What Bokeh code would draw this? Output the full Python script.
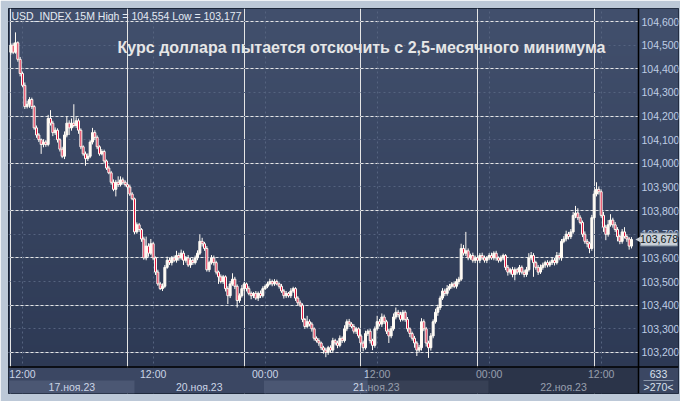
import numpy as np
from bokeh.plotting import figure
from bokeh.models import (Range1d, FixedTicker, CustomJSTickFormatter, ColumnDataSource,
                          Grid, LinearAxis)
from bokeh.core.properties import value
from bokeh.embed import file_html
from bokeh.resources import INLINE

# ---------------- data ----------------
symbol = "USD_INDEX"
timeframe = "15M"
open0 = 104.470
closes = [
    104.500, 104.470, 104.510, 104.440, 104.380, 104.330, 104.240, 104.250, 104.270, 104.240,
    104.150, 104.120, 104.100, 104.080, 104.090, 104.080, 104.190, 104.170, 104.130, 104.140,
    104.100, 104.060, 104.030, 104.120, 104.170, 104.150, 104.170, 104.160, 104.180, 104.140,
    104.070, 104.040, 104.020, 104.030, 104.090, 104.130, 104.110, 104.070, 104.040, 104.050,
    104.010, 103.980, 103.960, 103.920, 103.890, 103.920, 103.910, 103.930, 103.920, 103.910,
    103.900, 103.870, 103.850, 103.710, 103.740, 103.720, 103.680, 103.600, 103.650, 103.620,
    103.660, 103.600, 103.540, 103.490, 103.470, 103.480, 103.560, 103.590, 103.580, 103.600,
    103.590, 103.610, 103.600, 103.620, 103.590, 103.600, 103.570, 103.590, 103.580, 103.600,
    103.620, 103.670, 103.660, 103.640, 103.550, 103.580, 103.600, 103.580, 103.540, 103.520,
    103.500, 103.520, 103.470, 103.440, 103.490, 103.510, 103.480, 103.420, 103.440, 103.470,
    103.490, 103.470, 103.450, 103.440, 103.450, 103.430, 103.450, 103.440, 103.470, 103.480,
    103.490, 103.500, 103.490, 103.500, 103.490, 103.480, 103.460, 103.440, 103.450, 103.440,
    103.460, 103.470, 103.430, 103.410, 103.400, 103.340, 103.310, 103.330, 103.320, 103.300,
    103.260, 103.250, 103.240, 103.220, 103.210, 103.200, 103.220, 103.210, 103.250, 103.240,
    103.230, 103.260, 103.250, 103.300, 103.330, 103.320, 103.310, 103.290, 103.300, 103.270,
    103.240, 103.220, 103.280, 103.290, 103.250, 103.230, 103.300, 103.330, 103.320, 103.350,
    103.330, 103.290, 103.270, 103.300, 103.350, 103.370, 103.360, 103.340, 103.370, 103.340,
    103.300, 103.280, 103.260, 103.240, 103.210, 103.220, 103.330, 103.300, 103.240, 103.220,
    103.270, 103.330, 103.370, 103.390, 103.430, 103.460, 103.450, 103.470, 103.480, 103.490,
    103.480, 103.500, 103.510, 103.640, 103.620, 103.630, 103.600, 103.610, 103.590, 103.600,
    103.590, 103.610, 103.600, 103.590, 103.600, 103.610, 103.600, 103.620, 103.600, 103.590,
    103.600, 103.610, 103.560, 103.540, 103.550, 103.530, 103.550, 103.540, 103.560, 103.540,
    103.530, 103.550, 103.600, 103.610, 103.580, 103.560, 103.540, 103.560, 103.570, 103.580,
    103.570, 103.580, 103.590, 103.580, 103.610, 103.600, 103.670, 103.680, 103.700, 103.690,
    103.710, 103.780, 103.790, 103.770, 103.750, 103.700, 103.670, 103.660, 103.640, 103.770,
    103.870, 103.890, 103.880, 103.780, 103.730, 103.700, 103.740, 103.760, 103.740, 103.720,
    103.690, 103.670, 103.710, 103.690, 103.680, 103.650, 103.678,
]
# wick lengths above / below the body, in 0.001 points
wick_up = [
    8, 10, 44, 6, 10, 8, 12, 15, 10, 8,
    6, 10, 8, 5, 12, 8, 15, 35, 10, 12,
    8, 6, 10, 15, 30, 12, 20, 80, 15, 10,
    8, 6, 10, 12, 8, 20, 10, 8, 6, 10,
    8, 6, 10, 8, 12, 10, 25, 15, 10, 8,
    6, 10, 8, 5, 10, 8, 6, 10, 40, 12,
    20, 8, 6, 10, 8, 12, 10, 15, 12, 8,
    10, 20, 12, 15, 10, 8, 12, 10, 8, 10,
    12, 30, 15, 8, 10, 8, 12, 10, 8, 6,
    10, 8, 6, 10, 12, 25, 10, 8, 10, 15,
    8, 6, 10, 8, 6, 10, 8, 12, 10, 8,
    10, 12, 8, 10, 8, 6, 10, 8, 10, 6,
    12, 8, 6, 8, 10, 8, 6, 25, 10, 8,
    6, 8, 10, 6, 8, 10, 8, 10, 12, 8,
    10, 12, 8, 15, 10, 12, 8, 10, 8, 6,
    8, 10, 12, 8, 10, 8, 10, 25, 12, 15,
    10, 8, 10, 12, 15, 20, 10, 12, 10, 8,
    10, 6, 8, 10, 8, 12, 15, 10, 8, 10,
    12, 10, 15, 12, 10, 12, 10, 15, 10, 8,
    10, 12, 10, 20, 15, 80, 10, 8, 12, 10,
    8, 10, 12, 10, 8, 10, 12, 8, 10, 6,
    10, 8, 6, 10, 8, 12, 10, 8, 10, 8,
    10, 12, 20, 15, 10, 8, 10, 12, 10, 8,
    10, 8, 12, 10, 15, 12, 10, 12, 15, 10,
    12, 15, 30, 20, 10, 8, 12, 10, 8, 12,
    15, 30, 12, 10, 15, 10, 20, 25, 10, 12,
    10, 8, 12, 20, 10, 8, 10,
]
wick_dn = [
    10, 8, 6, 10, 12, 8, 10, 8, 15, 10,
    8, 12, 10, 40, 12, 10, 8, 10, 15, 10,
    12, 10, 8, 12, 10, 30, 12, 8, 10, 15,
    10, 8, 30, 10, 8, 10, 12, 10, 8, 6,
    10, 8, 6, 10, 8, 30, 10, 8, 10, 8,
    10, 8, 6, 10, 8, 10, 12, 8, 10, 15,
    8, 10, 12, 8, 6, 10, 8, 6, 10, 12,
    8, 10, 12, 8, 20, 10, 8, 12, 10, 8,
    10, 8, 12, 10, 8, 10, 8, 12, 10, 30,
    8, 10, 12, 35, 10, 8, 12, 30, 10, 8,
    10, 12, 8, 15, 10, 8, 12, 10, 8, 6,
    8, 6, 10, 8, 6, 10, 8, 12, 10, 8,
    10, 8, 12, 10, 8, 12, 10, 8, 10, 12,
    10, 8, 12, 10, 15, 20, 10, 12, 8, 10,
    12, 8, 10, 8, 10, 12, 8, 10, 12, 10,
    10, 15, 8, 10, 12, 20, 10, 8, 10, 12,
    10, 12, 30, 10, 8, 10, 12, 10, 8, 10,
    12, 15, 10, 20, 25, 10, 12, 10, 15, 43,
    12, 10, 8, 15, 10, 8, 12, 10, 8, 10,
    8, 10, 12, 8, 10, 12, 10, 8, 10, 12,
    10, 12, 8, 10, 12, 10, 8, 10, 12, 10,
    8, 10, 12, 15, 10, 12, 25, 10, 12, 10,
    12, 10, 8, 10, 60, 10, 12, 8, 10, 12,
    10, 8, 10, 12, 8, 10, 12, 8, 10, 12,
    10, 8, 12, 10, 8, 12, 10, 15, 20, 10,
    8, 10, 12, 10, 20, 25, 10, 8, 12, 10,
    20, 12, 10, 8, 12, 15, 10,
]
price_ticks = [103.2, 103.3, 103.4, 103.5, 103.6, 103.7, 103.8, 103.9,
               104.0, 104.1, 104.2, 104.3, 104.4, 104.5, 104.6]
time_ticks = [5, 61, 109, 157, 205, 253]
time_labels = ["12:00", "12:00", "00:00", "12:00", "00:00", "12:00"]
day_edges = [-0.7, 53, 108.5, 204.7, 269]
day_labels = ["17.ноя.23", "20.ноя.23", "21.ноя.23", "22.ноя.23"]
day_shaded = [True, False, True, False]
bars_total = 633
bars_visible = 270
title_text = "Курс доллара пытается отскочить с 2,5-месячного минимума"

assert len(closes) == len(wick_up) == len(wick_dn)

# ---------------- derived OHLC ----------------
n = len(closes)
idx = list(range(n))
opens = [open0] + closes[:-1]
body_top = [max(o, c) for o, c in zip(opens, closes)]
body_bot = [min(o, c) for o, c in zip(opens, closes)]
highs = [t + u / 1000 for t, u in zip(body_top, wick_up)]
lows = [b - d / 1000 for b, d in zip(body_bot, wick_dn)]
RED = "#E0173F"
WHITE = "#FFFBF4"
fills = [WHITE if c >= o else RED for o, c in zip(opens, closes)]
src = ColumnDataSource(dict(x=idx, top=body_top, bottom=body_bot, high=highs, low=lows, fill=fills))

def fmt(v):
    return f"{v:.3f}".replace(".", ",")

# ---------------- figure ----------------
PANE_W = 630            # price pane width in px
FW, FH = 670, 385       # frame incl. price-scale column
X_END = 269             # right edge of price pane in bar units
x_max = -1 + FW * (X_END + 1) / PANE_W
FONT = "Liberation Sans"
STRIP = 26
GRID_C = "#55637F"

p = figure(width=680, height=401, x_range=Range1d(-1, x_max),
           y_range=Range1d(103.0264, 104.655), x_axis_location=None,
           y_axis_location=None, output_backend="svg", toolbar_location=None,
           min_border_left=8, min_border_top=8, min_border_bottom=8, min_border_right=2,
           background_fill_color="#36435E", border_fill_color="#BCC8D7",
           outline_line_color="#101826")
p.extra_x_ranges = {"px": Range1d(0, FW)}
p.extra_y_ranges = {"py": Range1d(0, FH)}

# background gradient
rows = 160
img = np.empty((rows, 1), dtype=np.uint32)
view = img.view(dtype=np.uint8).reshape((rows, 1, 4))
bot_c = np.array([44, 56, 83])
top_c = np.array([66, 80, 109])
for r in range(rows):
    t = r / (rows - 1)
    view[r, 0, :3] = (bot_c + (top_c - bot_c) * t).astype(np.uint8)
    view[r, 0, 3] = 255
p.image_rgba(image=[img], x=0, y=0, dw=FW, dh=FH, x_range_name="px",
             y_range_name="py", level="image")

# grids
gy = Grid(dimension=1, ticker=FixedTicker(ticks=price_ticks), grid_line_color=GRID_C,
          grid_line_dash="2 3", grid_line_width=1)
gx = Grid(dimension=0, ticker=FixedTicker(ticks=time_ticks), grid_line_color=GRID_C,
          grid_line_dash="2 3", grid_line_width=1)
p.add_layout(gy, "center")
p.add_layout(gx, "center")

# price-scale column background (hides grid lines there)
p.image_rgba(image=[img], x=PANE_W, y=0, dw=FW - PANE_W, dh=FH, x_range_name="px",
             y_range_name="py")

# candles
p.segment(x0="x", x1="x", y0="low", y1="high", source=src, line_color=WHITE, line_width=1)
p.vbar(x="x", width=0.85, top="top", bottom="bottom", source=src, fill_color="fill",
       line_color=WHITE, line_width=1)

# bottom time strip
p.quad(left=0, right=FW, bottom=0, top=STRIP, x_range_name="px", y_range_name="py",
       fill_color="#3B4763", line_color=None)
sh_l = [day_edges[i] for i in range(len(day_labels)) if day_shaded[i]]
sh_r = [day_edges[i + 1] for i in range(len(day_labels)) if day_shaded[i]]
p.quad(left=sh_l, right=sh_r, bottom=0, top=13, y_range_name="py",
       fill_color="#4B5773", line_color=None)
p.segment(x0=0, x1=FW, y0=STRIP + 0.5, y1=STRIP + 0.5, x_range_name="px", y_range_name="py",
          line_color="black", line_width=1.5)
p.text(x=time_ticks, y=[19.5] * len(time_ticks), text=time_labels, y_range_name="py",
       text_align="center", text_baseline="middle", text_font=value(FONT),
       text_font_size="10.5px", text_color="#CBD5E6")
day_mid = [(day_edges[i] + day_edges[i + 1]) / 2 for i in range(len(day_labels))]
p.text(x=day_mid, y=[6.5] * len(day_labels), text=day_labels, y_range_name="py",
       text_align="center", text_baseline="middle", text_font=value(FONT),
       text_font_size="10.5px", text_color="#CBD5E6")
dim_from = 152.9
p.quad(left=dim_from, right=X_END, bottom=0, top=STRIP, y_range_name="py",
       fill_color="black", fill_alpha=0.26, line_color=None)

# texts in the pane
p.text(x=[3], y=[FH - 7.5], text=[f"{symbol} {timeframe} High = {fmt(max(highs))} Low = {fmt(min(lows))}"],
       x_range_name="px", y_range_name="py", text_align="left", text_baseline="middle",
       text_font=value(FONT), text_font_size="10.5px", text_color="#E4EAF3")
p.text(x=[353], y=[FH - 39], text=[title_text], x_range_name="px", y_range_name="py",
       text_align="center", text_baseline="middle", text_font=value(FONT),
       text_font_size="16px", text_font_style="bold", text_color="#E6E6E6")

# bar counters in the price-scale column
cx = (PANE_W + FW) / 2
p.text(x=[cx, cx], y=[19.5, 6.5], text=[str(bars_total), f">{bars_visible}<"],
       x_range_name="px", y_range_name="py", text_align="center", text_baseline="middle",
       text_font=value(FONT), text_font_size="10.5px", text_color="#D8E0EC")
p.segment(x0=[PANE_W + 5], x1=[FW - 5], y0=[13], y1=[13], x_range_name="px", y_range_name="py",
          line_color="#8A96AA", line_width=1)

# right price axis, drawn at the right edge of the price pane
ax = LinearAxis(fixed_location=X_END, ticker=FixedTicker(ticks=price_ticks),
                formatter=CustomJSTickFormatter(code="return tick.toFixed(3).replace('.', ',');"))
ax.major_label_text_font = FONT
ax.major_label_text_font_size = "10.5px"
ax.major_label_text_color = "#BFCDE4"
ax.axis_line_color = "black"
ax.axis_line_width = 1.5
ax.major_tick_out = 0
ax.major_tick_in = 0
ax.minor_tick_line_color = None
ax.major_label_standoff = 3
p.add_layout(ax, "right")

# last price tag (drawn above the axis labels)
last = closes[-1]
tag_x = PANE_W + 20.5
tag_r = p.rect(x=[tag_x], y=[last], width=37, height=13, width_units="screen",
               height_units="screen", x_range_name="px", fill_color="#C9D0D8",
               line_color="#7C8899", level="overlay")
tri_r = p.scatter(x=[PANE_W + 1], y=[last], x_range_name="px", marker="triangle",
                  angle=np.pi / 2, size=7, fill_color="#C9D0D8", line_color=None, level="overlay")
txt_r = p.text(x=[tag_x], y=[last], text=[fmt(last)], x_range_name="px", text_align="center",
               text_baseline="middle", text_font=value(FONT), text_font_size="10.5px",
               text_color="#101820", level="overlay")

open("out.html", "w").write(file_html(p, INLINE))
